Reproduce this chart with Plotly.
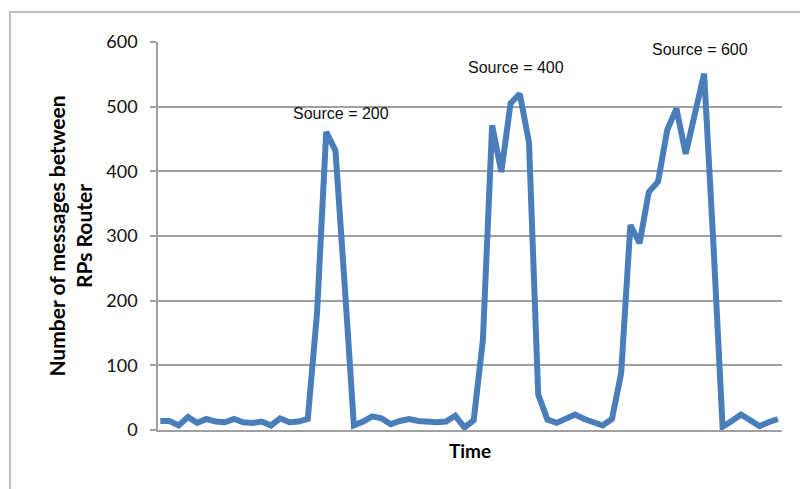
import plotly.graph_objects as go

# Data (68 time steps)
time_steps = list(range(1, 69))
messages = [
    14, 14, 7, 20, 11, 17, 13, 12, 17, 12,
    11, 13, 7, 18, 12, 13, 17, 180, 461, 432,
    225, 7, 13, 21, 18, 9, 14, 17, 14, 12,
    12, 13, 22, 4, 15, 139, 471, 399, 505, 520,
    445, 55, 16, 11, 17, 24, 17, 12, 7, 17,
    88, 317, 289, 368, 384, 464, 497, 427, 485, 551,
    290, 5, 14, 24, 15, 6, 12, 17,
]

ann_texts = ["Source = 200", "Source = 400", "Source = 600"]
ann_x = [20.6, 39.6, 59.5]
ann_y = [490, 561, 588]

y_ticks = [0, 100, 200, 300, 400, 500, 600]

fig = go.Figure()
fig.add_trace(go.Scatter(
    x=time_steps, y=messages, mode="lines",
    line=dict(color="#4A7EBB", width=6),
    hoverinfo="skip", showlegend=False,
))

for t, ax_, ay_ in zip(ann_texts, ann_x, ann_y):
    fig.add_annotation(x=ax_, y=ay_, xref="x", yref="y", text=t, showarrow=False,
                       font=dict(family="Liberation Sans, Arial", size=16, color="#111111"))

GRID = "#a0a0a0"
fig.update_layout(
    width=800, height=489,
    margin=dict(l=158, r=18, t=42, b=59),
    paper_bgcolor="white", plot_bgcolor="white",
    xaxis=dict(
        range=[0.75, 68.45], showticklabels=False, ticks="", showgrid=False,
        zeroline=False, showline=True, linecolor=GRID, linewidth=1.5,
        title=dict(text="<b>Time</b>", standoff=14,
                   font=dict(family="Lato", size=19, color="#000000")),
    ),
    yaxis=dict(
        range=[0, 600], tickvals=y_ticks, ticktext=[str(v) for v in y_ticks],
        showgrid=True, gridcolor=GRID, gridwidth=1.5, zeroline=False,
        showline=True, linecolor=GRID, linewidth=1.5,
        ticks="outside", ticklen=6, tickcolor=GRID, tickwidth=1.5,
        ticklabelstandoff=9,
        tickfont=dict(family="Lato", size=18, color="#111111"),
        title=dict(text="<b>Number of messages between<br>RPs Router</b>", standoff=8,
                   font=dict(family="Lato", size=21, color="#000000")),
    ),
)

# outer chart frame (extends beyond the visible page at right and bottom)
fig.add_shape(type="rect", xref="paper", yref="paper",
              x0=-0.2372, x1=1.2, y0=-0.3, y1=1.0773,
              line=dict(color="#a8a8a8", width=1.5), fillcolor="rgba(0,0,0,0)", layer="below")

fig.write_html("out.html")
